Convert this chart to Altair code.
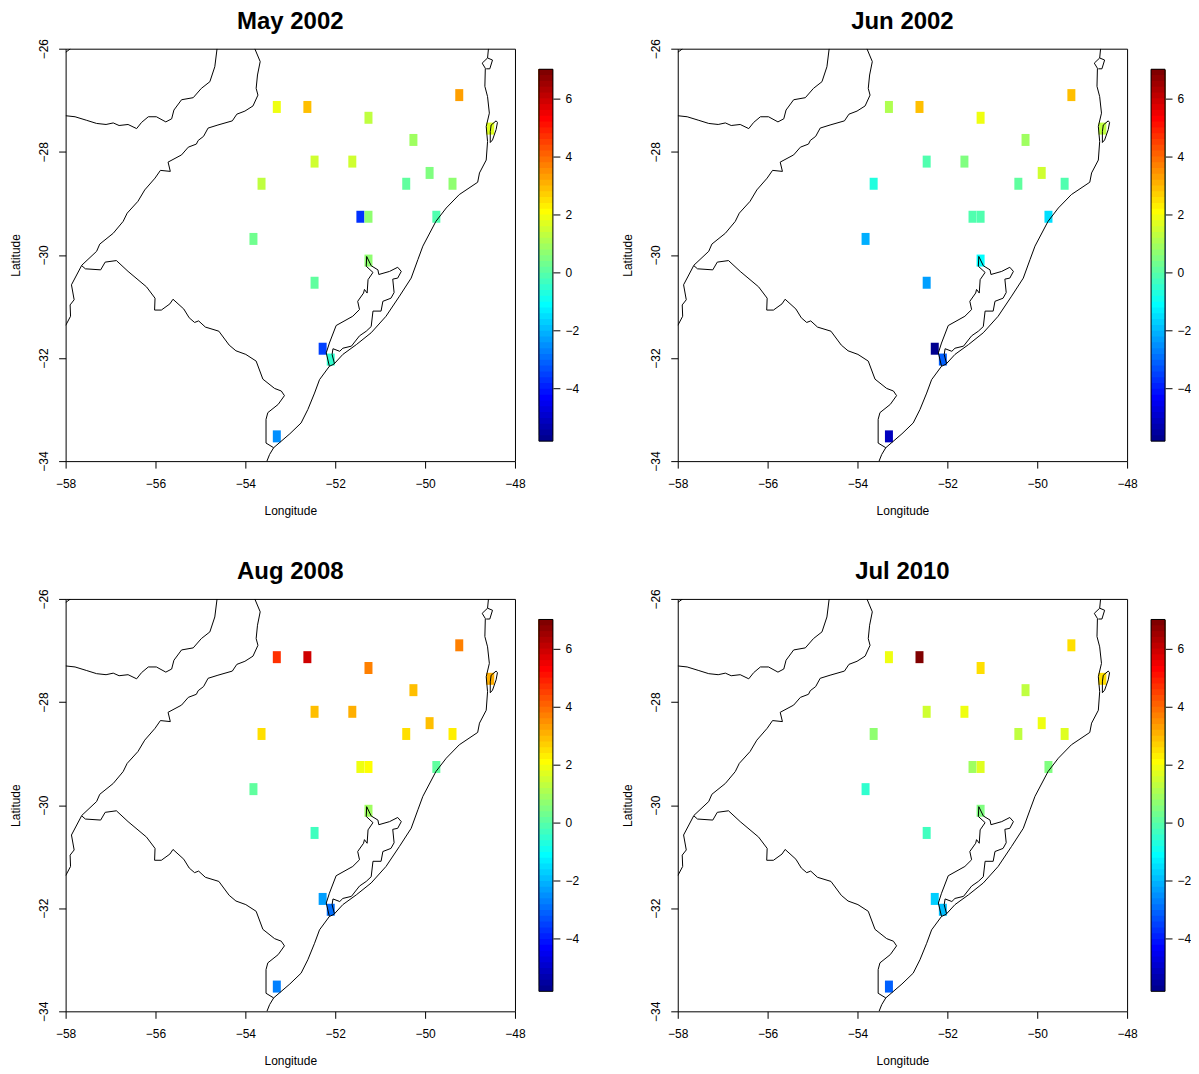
import altair as alt
import pandas as pd

TITLES = ["May 2002", "Jun 2002", "Aug 2008", "Jul 2010"]

STATION_LON = [-53.30, -52.62, -51.26, -49.24, -50.26, -52.46, -51.62, -49.90, -50.42, -49.39, -53.64,
               -51.44, -51.26, -49.75, -53.82, -51.26, -52.46, -52.28, -52.10, -53.30, -48.55]
STATION_LAT = [-27.13, -27.13, -27.34, -26.90, -27.77, -28.19, -28.19, -28.41, -28.62, -28.62, -28.62,
               -29.26, -29.26, -29.26, -29.69, -30.11, -30.54, -31.82, -32.03, -33.52, -27.55]

MAY_2002 = [1.88, 2.88, 1.38, 3.28, 0.98, 1.58, 1.58, 0.48, 0.08, 0.68, 1.38, -3.82, 0.68, -0.12, 0.28, 0.68, 0.08, -3.52, -0.52, -2.42, 1.78]
JUN_2002 = [1.08, 2.88, 1.88, 2.88, 0.88, -0.12, 0.48, 1.48, 0.08, -0.12, -0.72, -0.12, -0.12, -1.52, -2.12, -1.12, -2.32, -5.8, -3.12, -5.12, 1.28]
AUG_2008 = [4.68, 5.88, 3.68, 3.68, 2.88, 2.88, 3.08, 2.88, 2.48, 2.28, 2.48, 1.88, 2.08, 0.08, 0.08, 0.88, -0.32, -2.32, -2.92, -2.72, 3.08]
JUL_2010 = [1.88, 6.9, 2.48, 2.48, 1.28, 1.48, 1.88, 1.88, 1.28, 1.68, 0.68, 0.88, 1.68, 0.48, -0.52, 0.48, -0.32, -1.72, -1.92, -3.12, 2.48]
SERIES = [MAY_2002, JUN_2002, AUG_2008, JUL_2010]

UPPER_RIVER = [(-58.00, -27.30), (-57.79, -27.32), (-57.53, -27.39), (-57.31, -27.45), (-57.10, -27.47),
               (-56.94, -27.44), (-56.81, -27.49), (-56.61, -27.47), (-56.42, -27.55), (-56.31, -27.43),
               (-56.16, -27.32), (-55.98, -27.32), (-55.77, -27.42), (-55.64, -27.36), (-55.59, -27.19),
               (-55.42, -26.99), (-55.16, -26.95), (-54.98, -26.77), (-54.79, -26.64), (-54.68, -26.35),
               (-54.63, -26.00)]
CORNER = [(-58.00, -26.07), (-57.89, -26.00)]
WEST_RIVER = [(-53.79, -26.00), (-53.67, -26.25), (-53.73, -26.51), (-53.76, -26.77), (-53.72, -26.90),
              (-53.83, -27.11), (-54.01, -27.21), (-54.19, -27.27), (-54.29, -27.40), (-54.61, -27.48),
              (-54.83, -27.54), (-54.93, -27.70), (-55.05, -27.78), (-55.09, -27.85), (-55.27, -27.91),
              (-55.42, -28.06), (-55.72, -28.20), (-55.67, -28.38), (-55.89, -28.36), (-56.01, -28.51),
              (-56.24, -28.74), (-56.39, -28.96), (-56.63, -29.19), (-56.72, -29.35), (-56.94, -29.58),
              (-57.24, -29.79), (-57.31, -29.93), (-57.64, -30.20), (-57.87, -30.58), (-57.81, -30.87),
              (-57.90, -30.97), (-57.89, -31.19), (-58.00, -31.37)]
SOUTH_BORDER = [(-57.64, -30.21), (-57.56, -30.27), (-57.22, -30.29), (-57.12, -30.14), (-56.87, -30.11),
                (-56.61, -30.32), (-56.20, -30.62), (-56.01, -30.84), (-56.02, -31.07), (-55.87, -31.07),
                (-55.68, -30.95), (-55.61, -30.86), (-55.37, -31.05), (-55.25, -31.22), (-55.13, -31.31),
                (-55.04, -31.28), (-54.89, -31.40), (-54.59, -31.48), (-54.36, -31.75), (-54.21, -31.86),
                (-53.99, -31.93), (-53.76, -32.06), (-53.61, -32.41), (-53.35, -32.59), (-53.20, -32.64),
                (-53.13, -32.73), (-53.27, -32.90), (-53.50, -33.06), (-53.54, -33.19), (-53.54, -33.65),
                (-53.37, -33.74)]
COAST = [(-53.52, -34.00), (-53.46, -33.87), (-53.37, -33.74), (-53.01, -33.47), (-52.76, -33.26),
         (-52.61, -33.00), (-52.46, -32.68), (-52.35, -32.42), (-52.13, -32.16), (-52.03, -32.12),
         (-51.83, -31.93), (-51.53, -31.74), (-51.20, -31.51), (-50.87, -31.19), (-50.57, -30.80),
         (-50.31, -30.45), (-50.16, -30.09), (-50.05, -29.83), (-49.76, -29.35), (-49.53, -29.09),
         (-49.24, -28.83), (-48.83, -28.59), (-48.79, -28.41), (-48.64, -28.16), (-48.61, -27.80),
         (-48.64, -27.51), (-48.57, -27.25), (-48.61, -26.93), (-48.67, -26.73), (-48.66, -26.38),
         (-48.73, -26.28), (-48.61, -26.18), (-48.59, -26.00)]
NORTH_ISLAND = [(-48.61, -26.18), (-48.50, -26.22), (-48.56, -26.39), (-48.64, -26.39)]
SOUTH_ISLAND = [(-48.53, -27.48), (-48.42, -27.40), (-48.39, -27.43), (-48.42, -27.57), (-48.50, -27.77),
                (-48.55, -27.82), (-48.55, -27.61), (-48.53, -27.48)]
LAGOON = [(-52.13, -32.16), (-52.20, -31.90), (-52.13, -31.71), (-51.98, -31.37), (-51.61, -31.19),
          (-51.46, -31.06), (-51.50, -30.90), (-51.37, -30.74), (-51.35, -30.67), (-51.29, -30.74),
          (-51.27, -30.48), (-51.16, -30.34), (-51.31, -30.22), (-51.30, -30.03), (-51.20, -30.21),
          (-51.05, -30.29), (-51.03, -30.38), (-50.79, -30.32), (-50.61, -30.24), (-50.53, -30.32),
          (-50.61, -30.45), (-50.72, -30.47), (-50.69, -30.73), (-50.76, -30.84), (-50.94, -30.90),
          (-50.98, -31.09), (-51.16, -31.09), (-51.20, -31.39), (-51.31, -31.48), (-51.46, -31.57),
          (-51.64, -31.77), (-51.83, -31.81), (-51.90, -31.87), (-52.05, -31.82), (-52.07, -31.93),
          (-52.02, -32.10), (-52.03, -32.12)]
PATHS = {"upper": UPPER_RIVER, "corner": CORNER, "west": WEST_RIVER, "south": SOUTH_BORDER,
         "coast": COAST, "nisland": NORTH_ISLAND, "sisland": SOUTH_ISLAND, "lagoon": LAGOON}

BAR_MIN, BAR_MAX = -5.83, 7.01
BAR_TICKS = [-4, -2, 0, 2, 4, 6]
LON_TICKS = [-58, -56, -54, -52, -50, -48]
LAT_TICKS = [-34, -32, -30, -28, -26]
FONT = "Liberation Sans"


def channel_hex(r, g, b):
    return "#" + "".join(f"{round(255 * min(1, max(0, c))):02x}" for c in (r, g, b))


PALETTE = []
for i in range(64):
    r = min((i - 23) / 16, 1 - (i - 55) / 16)
    g = min((i - 7) / 16, 1 - (i - 39) / 16)
    b = min(0.5625 + i * 0.0625, 1 - (i - 23) / 16)
    PALETTE.append(channel_hex(r, g, b))

color_scale = alt.Scale(type="quantize", domain=[BAR_MIN, BAR_MAX], range=PALETTE)
step = (BAR_MAX - BAR_MIN) / 64
levels = pd.DataFrame({
    "lo": [BAR_MIN + i * step for i in range(64)],
    "hi": [BAR_MAX for i in range(64)],
    "mid": [BAR_MIN + (i + 0.5) * step for i in range(64)],
})
frame = pd.DataFrame({"lo": [BAR_MIN], "hi": [BAR_MAX]})

lines = pd.DataFrame(
    [{"path": name, "seq": k, "lon": p[0], "lat": p[1]}
     for name, pts in PATHS.items() for k, p in enumerate(pts)]
)

W, H = 450, 413
BAR_WIDTHS = [115, 30]
x_scale = alt.Scale(domain=[-58, -48], nice=False, zero=False)
y_scale = alt.Scale(domain=[-34, -26], nice=False, zero=False)
bar_y_scale = alt.Scale(domain=[-6.52, 7.72], nice=False, zero=False)


def panel(title, values, bar_w):
    df = pd.DataFrame({"lon": STATION_LON, "lat": STATION_LAT, "value": values})
    x_enc = alt.X("lon:Q", scale=x_scale, title="Longitude",
                  axis=alt.Axis(values=LON_TICKS, grid=False, tickSize=7, tickColor="black", domain=False,
                                labelFontSize=12, labelFont=FONT, labelColor="black", labelPadding=10,
                                titleFontSize=12, titleFont=FONT, titleFontWeight="normal", titleColor="black",
                                titlePadding=16, format="d", labelOverlap=False, labelFlush=False))
    y_enc = alt.Y("lat:Q", scale=y_scale, title="Latitude",
                  axis=alt.Axis(values=LAT_TICKS, grid=False, tickSize=7, tickColor="black", domain=False,
                                labelAngle=270, labelFontSize=12, labelFont=FONT, labelColor="black", labelPadding=8,
                                titleFontSize=12, titleFont=FONT, titleFontWeight="normal", titleColor="black",
                                titlePadding=15, format="d", labelOverlap=False, labelFlush=False))
    rects = alt.Chart(df).mark_rect(width=8, height=12).encode(
        x=x_enc, y=y_enc,
        color=alt.Color("value:Q", scale=color_scale, legend=None),
    )
    outline = alt.Chart(lines).mark_line(color="black", strokeWidth=1, clip=True).encode(
        x=alt.X("lon:Q", scale=x_scale), y=alt.Y("lat:Q", scale=y_scale),
        detail="path:N", order="seq:Q",
    )
    main = alt.layer(rects, outline).properties(
        width=W, height=H,
        title=alt.TitleParams(title, fontSize=24, font=FONT, fontWeight="bold", color="black",
                              anchor="middle", offset=5),
    )
    bar_axis = alt.Axis(values=BAR_TICKS, orient="right", title=None, grid=False, domain=False, tickSize=7,
                        tickColor="black", labelFontSize=12, labelFont=FONT, labelColor="black", labelPadding=5,
                        labelAlign="left", format="d", labelOverlap=False, offset=14 - bar_w)
    strip = alt.Chart(levels).mark_rect().encode(
        x=alt.value(0), x2=alt.value(14),
        y=alt.Y("lo:Q", scale=bar_y_scale, axis=bar_axis), y2="hi:Q",
        color=alt.Color("mid:Q", scale=color_scale, legend=None),
    )
    box = alt.Chart(frame).mark_rect(fill=None, stroke="black", strokeWidth=1).encode(
        x=alt.value(0), x2=alt.value(14),
        y=alt.Y("lo:Q", scale=bar_y_scale, axis=bar_axis), y2="hi:Q",
    )
    bar = alt.layer(strip, box).properties(width=bar_w, height=H, view=alt.ViewConfig(stroke=None))
    return [main, bar]


cells = []
for k, (t, s) in enumerate(zip(TITLES, SERIES)):
    cells += panel(t, s, BAR_WIDTHS[k % 2])
chart = alt.concat(*cells, columns=4, bounds="flush",
                   spacing=alt.RowColnumber(column=24, row=138)).properties(
    padding={"left": 0.7, "top": 0, "right": 0, "bottom": 0}
).configure_view(stroke="black", strokeWidth=1)

chart.save("out.html", embed_options={"renderer": "svg", "actions": False})
